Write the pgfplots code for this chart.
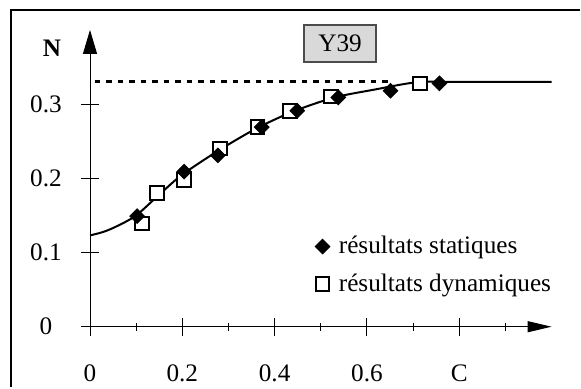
\documentclass[border=0pt]{standalone}
\usepackage{fontspec}
\setmainfont{Liberation Serif}
\usepackage{pgfplots}
\pgfplotsset{compat=1.18}
\usetikzlibrary{arrows.meta}
\begin{document}
\begin{tikzpicture}[font=\fontsize{12.6}{15}\selectfont]
\path (0pt,0pt) rectangle (290.5pt,-194pt);
\draw[line width=1pt] (5.5pt,-193.5pt) -- (5.5pt,-5pt) -- (290pt,-5pt);
\node[draw=black!70, fill=black!15, line width=0.75pt, minimum width=36pt, minimum height=18.5pt, inner sep=0pt] at (170pt,-21.75pt) {Y39};
\node at (26pt,-24.2pt) {\bfseries N};
\begin{axis}[
  at={(45pt,-163.35pt)}, anchor=south west,
  x=230.8pt, y=371pt,
  xmin=0, xmax=1.0, ymin=0, ymax=0.4,
  axis lines=left,
  clip=false,
  axis line style={line width=0.5pt},
  x axis line style={-{Triangle[length=12pt,width=5.5pt]}},
  y axis line style={-{Triangle[length=12pt,width=7pt]}},
  xtick={0,0.2,0.4,0.6,0.8}, xticklabels={0,0.2,0.4,0.6,C},
  minor xtick={0.1,0.3,0.5,0.7,0.9},
  ytick={0,0.1,0.2,0.3}, yticklabels={0,0.1,0.2,0.3},
  minor ytick={},
  tick align=center,
  major tick length=9pt, minor tick length=4pt,
  tick style={line width=0.5pt, black},
  xticklabel style={anchor=center, yshift=-19pt},
  yticklabel style={anchor=center, xshift=-17.5pt},
  reverse legend,
  legend style={draw=none, fill=none, at={(axis cs:0.487,0.0826)}, anchor=west, row sep=4.6pt, column sep=2.5pt, inner sep=0pt},
  legend cell align=left,
  legend image code/.code={\draw[#1] plot coordinates {(0pt,0pt)};},
]
\addplot[forget plot, line width=1pt, smooth, tension=0.5] coordinates {
(0,0.123) (0.03,0.128) (0.06,0.136) (0.10,0.150) (0.15,0.178) (0.20,0.205)
(0.28,0.238) (0.36,0.267) (0.44,0.290) (0.53,0.309) (0.62,0.320) (0.68,0.327)
(0.72,0.330) (0.80,0.330) (0.90,0.330) (1.00,0.330)};
\addplot[forget plot, line width=1.5pt, dash pattern=on 2.75pt off 3pt] coordinates {(0.01,0.33) (0.65,0.33)};
\addplot[only marks, mark=square*, mark size=3.4pt, mark options={fill=white, draw=black, line width=1pt}] coordinates {
(0.112,0.139) (0.145,0.180) (0.204,0.198) (0.282,0.240) (0.363,0.2695) (0.433,0.291) (0.522,0.310) (0.715,0.328)};
\addlegendentry{résultats dynamiques}
\addplot[only marks, mark=square*, mark size=2.6pt, mark options={rotate=45, fill=black, draw=black}] coordinates {
(0.102,0.149) (0.204,0.209) (0.277,0.231) (0.372,0.269) (0.449,0.291) (0.538,0.309) (0.651,0.318) (0.757,0.328)};
\addlegendentry{résultats statiques}
\end{axis}
\end{tikzpicture}
\end{document}
